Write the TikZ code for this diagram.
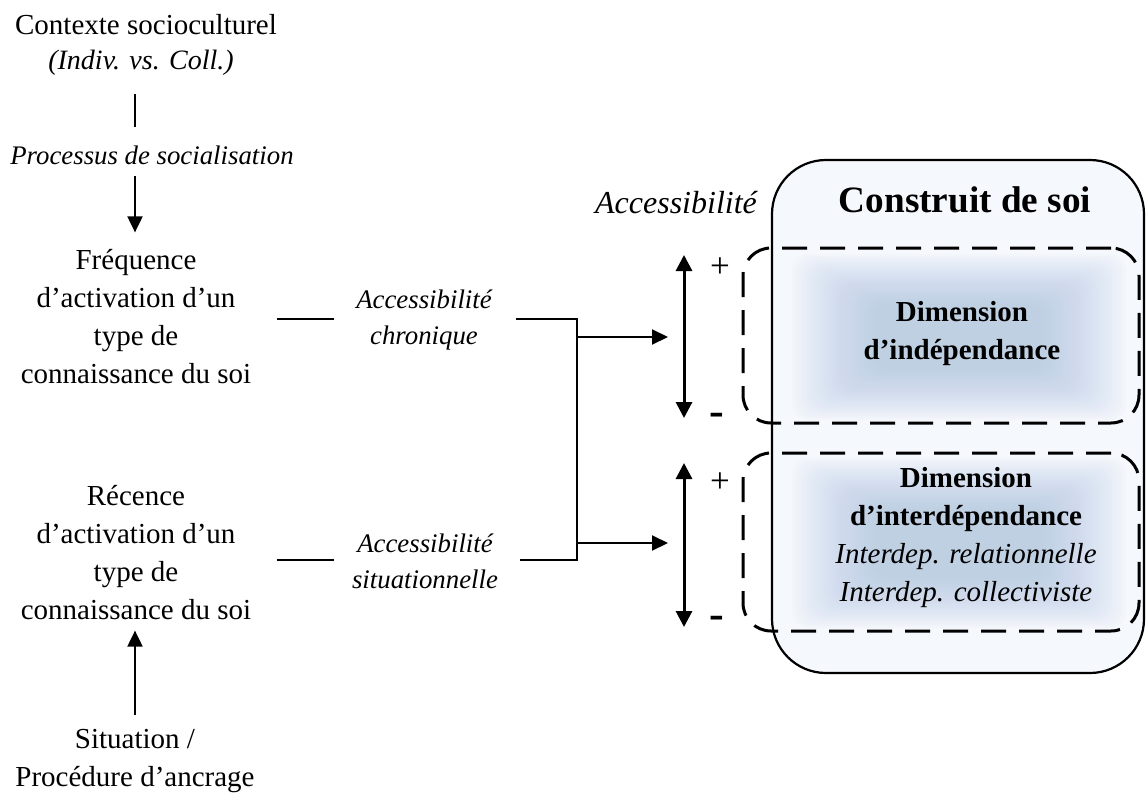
\documentclass[tikz,border=0pt]{standalone}
\usepackage{fontspec}
\setmainfont{Liberation Serif}
\usetikzlibrary{arrows.meta,calc}
\definecolor{boxfill}{RGB}{245,248,252}
\definecolor{glowc}{RGB}{170,193,226}
\begin{document}
\begin{tikzpicture}[x=0.5pt,y=-0.5pt,
  txt/.style={inner sep=0pt, align=center, font=\fontsize{14.5}{19}\selectfont},
  itl/.style={inner sep=0pt, align=center, font=\fontsize{13.4}{18}\selectfont\itshape},
  sgn/.style={inner sep=0pt, font=\fontsize{17.5}{19}\selectfont},
  msgn/.style={inner sep=0pt, font=\fontsize{22}{22}\selectfont\bfseries},
  conn/.style={line width=1pt},
  arr/.style={line width=1pt,-{Triangle[length=8pt,width=7.5pt]}},
  darr/.style={line width=1.5pt,{Triangle[length=8pt,width=8pt]}-{Triangle[length=8pt,width=8pt]}},
  dbox/.style={draw, dash pattern=on 12.5pt off 6.5pt, line width=1.5pt, rounded corners=14pt, inner sep=0pt, minimum width=198pt},
  bigbox/.style={draw, fill=boxfill, line width=1.1pt, rounded corners=27pt, inner sep=0pt},
  glow/.style={fill=glowc, fill opacity=0.04, rounded corners=8pt}
]
\useasboundingbox (0,0) rectangle (1146,803);

% container
\node[bigbox, minimum width=186pt, minimum height=256.5pt] (self) at (958,416.5) {};
% soft rectangular glows
\foreach \i in {0,...,23}{
  \fill[glow] (792+3.6*\i,254+2.2*\i) rectangle (1126-3.6*\i,420-2.2*\i);
  \fill[glow] (792+3.6*\i,458+2.2*\i) rectangle (1126-3.6*\i,628-2.2*\i);
}
\node[dbox, minimum height=87.5pt] (dim1) at (941,335.5) {};
\node[dbox, minimum height=89pt] (dim2) at (941,542) {};

\node[inner sep=0pt, font=\fontsize{16}{19}\selectfont\itshape] (acc) at (676,203) {Accessibilité};
\node[inner sep=0pt, font=\fontsize{18.6}{22}\selectfont\bfseries] (title) at (965,200) {Construit de soi};

\node[txt, font=\fontsize{14.5}{19}\selectfont\bfseries] (dim1t) at (962,334) {Dimension\\d’indépendance};
\node[txt] (dim2t) at (966,538) {\textbf{Dimension}\\\textbf{d’interdépendance}\\\textit{Interdep. relationnelle}\\\textit{Interdep. collectiviste}};

% left column
\node[txt] (ctx) at (146,25) {Contexte socioculturel};
\node[txt, font=\fontsize{14}{18}\selectfont\itshape] (indiv) at (141,63) {(Indiv. vs. Coll.)};
\node[itl] (proc) at (152,155) {Processus de socialisation};
\node[txt] (freq) at (136,317) {Fréquence\\d’activation d’un\\type de\\connaissance du soi};
\node[txt] (rec) at (136,553) {Récence\\d’activation d’un\\type de\\connaissance du soi};
\node[txt] (sit) at (135,761) {Situation /\\Procédure d’ancrage};

\node[itl] (chron) at (424,320) {Accessibilité\\chronique};
\node[itl] (situ) at (425,561) {Accessibilité\\situationnelle};

\node[sgn] (p1) at (720,268) {+};
\node[msgn] (m1) at (717,419) {-};
\node[sgn] (p2) at (720,483) {+};
\node[msgn] (m2) at (717,622) {-};

% helper coordinates
\coordinate (colx) at (135,0);
\coordinate (row1) at (0,319);
\coordinate (row2) at (0,560);
\coordinate (junc) at (577,0);
\coordinate (a1y) at (0,337);
\coordinate (a2y) at (0,543);
\coordinate (da1t) at (684,255);
\coordinate (da1b) at (684,418);
\coordinate (da2t) at (684,463);
\coordinate (da2b) at (684,627);

% connectors
\draw[line width=1.2pt, shorten <=9pt, shorten >=9pt] (indiv.south -| colx) -- (proc.north -| colx);
\draw[arr, shorten <=5.5pt, shorten >=8.5pt] (proc.south -| colx) -- (freq.north -| colx);
\draw[arr, shorten <=7pt, shorten >=5pt] (sit.north -| colx) -- (rec.south -| colx);

\draw[conn] ([xshift=12.5pt]freq.east |- row1) -- ([xshift=-11pt]chron.west |- row1);
\draw[conn] ([xshift=12.5pt]rec.east |- row2) -- ([xshift=-9pt]situ.west |- row2);
\draw[conn] ([xshift=12pt]chron.east |- row1) -- (junc |- row1) -- (junc |- row2) -- ([xshift=11pt]situ.east |- row2);

\draw[arr] (junc |- a1y) -- ([xshift=-8pt]da1t |- a1y);
\draw[arr] (junc |- a2y) -- ([xshift=-8pt]da2t |- a2y);

\draw[darr] (da1t) -- (da1b);
\draw[darr] (da2t) -- (da2b);
\end{tikzpicture}
\end{document}
